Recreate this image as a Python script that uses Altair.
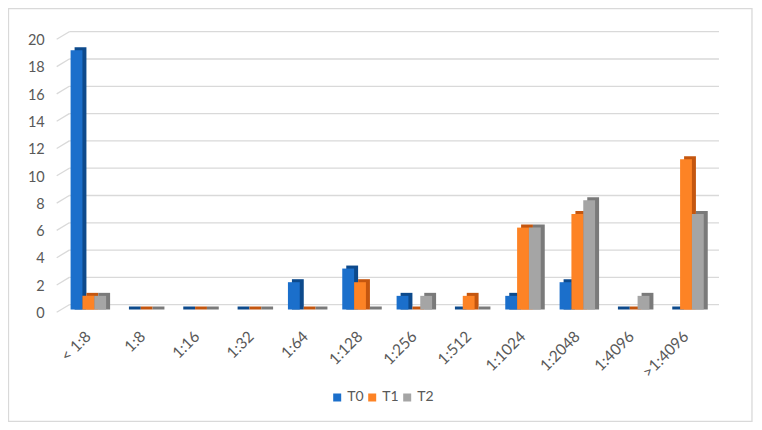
import altair as alt
import pandas as pd

categories = ["< 1:8", "1:8", "1:16", "1:32", "1:64", "1:128", "1:256",
              "1:512", "1:1024", "1:2048", "1:4096", ">1:4096"]
series = ["T0", "T1", "T2"]
t0 = [19, 0, 0, 0, 2, 3, 1, 0, 1, 2, 0, 0]
t1 = [1, 0, 0, 0, 0, 2, 0, 1, 6, 7, 0, 11]
t2 = [1, 0, 0, 0, 0, 0, 1, 0, 6, 8, 1, 7]
y_ticks = [0, 2, 4, 6, 8, 10, 12, 14, 16, 18, 20]

rows = []
for s, vals in zip(series, [t0, t1, t2]):
    for c, v in zip(categories, vals):
        rows.append({"cat": c, "series": s, "value": v})
df = pd.DataFrame(rows)
grid_df = pd.DataFrame({"v": y_ticks})

front_colors = ["#1b6fcb", "#fd8325", "#a5a5a5"]
side_colors = ["#0d4a8c", "#c4560f", "#7a7a7a"]
text_color = "#595959"
grid_color = "#d9d9d9"
FONT = "Lato"

W, H = 652, 273

x_scale = alt.Scale(domain=categories, paddingInner=0.346, paddingOuter=0.173)
y_scale = alt.Scale(domain=[0, 20], nice=False, zero=True)

x_axis = alt.Axis(title=None, labelAngle=315, labelAlign="right", labelBaseline="middle",
                  domain=False, ticks=False, tickSize=0, labelPadding=24,
                  labelFontSize=15.5, labelColor=text_color, labelFont=FONT, grid=False)
y_axis = alt.Axis(title=None, values=y_ticks, grid=False, domain=False, ticks=False,
                  tickSize=0, labelPadding=17, labelOffset=4, labelFontSize=14.5,
                  labelColor=text_color, labelFont=FONT)

# back gridlines (3D look)
grid = alt.Chart(grid_df).mark_rule(color=grid_color, strokeWidth=1.3, yOffset=-4.8).encode(
    y=alt.Y("v:Q", scale=y_scale, axis=y_axis),
    x=alt.value(8.1), x2=alt.value(657.8),
)
diag = alt.Chart(grid_df).mark_rule(color=grid_color, strokeWidth=1.3,
                                    yOffset=2.8, y2Offset=-4.8).encode(
    y=alt.Y("v:Q", scale=y_scale, axis=y_axis),
    y2="v:Q",
    x=alt.value(-4.5), x2=alt.value(8.1),
)

side = alt.Chart(df).mark_bar(yOffset=-3, y2Offset=0.01).encode(
    x=alt.X("cat:N", scale=x_scale, sort=categories, axis=x_axis),
    xOffset=alt.XOffset("series:N", scale=alt.Scale(domain=series, range=[4, 39.5],
                                                    paddingInner=0, paddingOuter=0)),
    y=alt.Y("value:Q", scale=y_scale, axis=y_axis, stack=None),
    y2=alt.datum(0),
    color=alt.Color("series:N", scale=alt.Scale(domain=series, range=side_colors), legend=None),
)

front = alt.Chart(df).mark_bar().encode(
    x=alt.X("cat:N", scale=x_scale, sort=categories, axis=x_axis),
    xOffset=alt.XOffset("series:N", scale=alt.Scale(domain=series, range=[0, 35.5],
                                                    paddingInner=0, paddingOuter=0)),
    y=alt.Y("value:Q", scale=y_scale, axis=y_axis, stack=None),
    color=alt.Color("series:N", scale=alt.Scale(domain=series, range=front_colors),
                    legend=alt.Legend(title=None, orient="none", legendX=269, legendY=354,
                                      direction="horizontal", symbolType="square",
                                      symbolSize=64, symbolStrokeWidth=0,
                                      labelFontSize=14, labelColor=text_color, labelFont=FONT,
                                      labelOffset=3, columnPadding=1)),
)

border = alt.Chart(pd.DataFrame({"a": [0]})).mark_rect(
    fill=None, stroke=grid_color, strokeWidth=1.3).encode(
    x=alt.value(-52.7), x2=alt.value(690.8), y=alt.value(-28), y2=alt.value(385),
)

chart = alt.layer(border, grid, diag, side, front).resolve_scale(
    xOffset="independent", color="independent"
).resolve_legend(color="independent").properties(
    width=W, height=H,
    autosize=alt.AutoSizeParams(type="none"),
    padding={"left": 53.2, "top": 28.5, "right": 40, "bottom": 112.5},
    background="white",
).configure_view(stroke=None)

chart.save("out.html", embed_options={"renderer": "svg", "actions": False})
